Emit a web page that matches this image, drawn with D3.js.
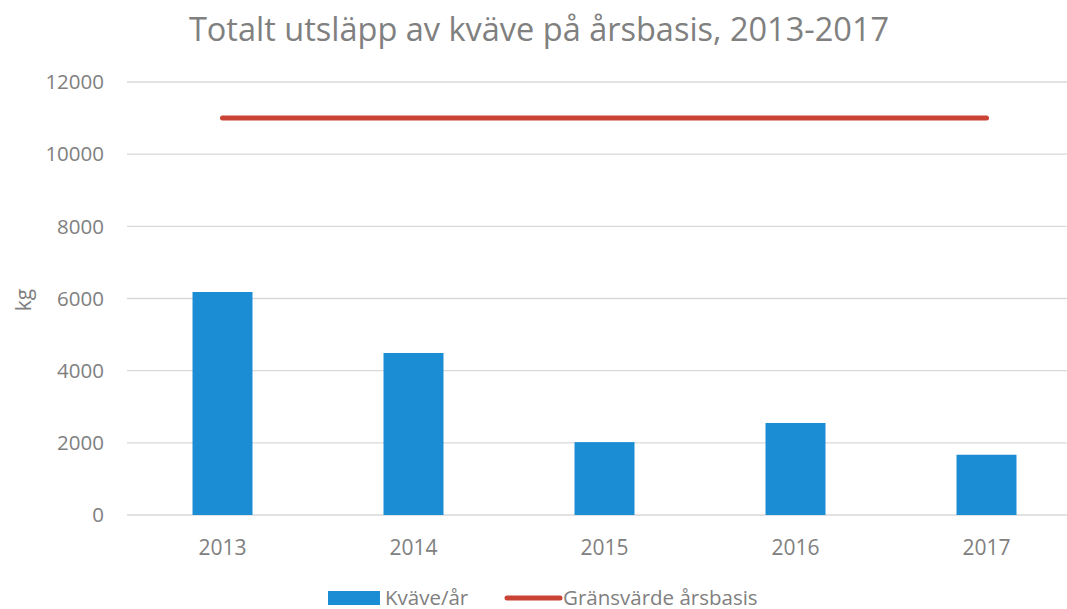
<!DOCTYPE html>
<html>
<head>
<meta charset="utf-8">
<script src="https://cdn.jsdelivr.net/npm/d3@7"></script>
<style>
  body { margin: 0; background: #fff; }
  text { font-family: "Open Sans", "Noto Sans", sans-serif; fill: #808080; }
</style>
</head>
<body>
<div id="chart"></div>
<script>
const years = ["2013", "2014", "2015", "2016", "2017"];
const kvave = [6180, 4490, 2020, 2550, 1670];
const gransvarde = [11000, 11000, 11000, 11000, 11000];
const yTicks = [0, 2000, 4000, 6000, 8000, 10000, 12000];

const width = 1067, height = 609;
const margin = { top: 82, right: -15, bottom: 94, left: 127 };
const innerWidth = width - margin.left - margin.right;
const innerHeight = height - margin.top - margin.bottom;

const svg = d3.select("#chart")
    .append("svg")
    .attr("width", width)
    .attr("height", height)
    .attr("xmlns", "http://www.w3.org/2000/svg");

const g = svg.append("g")
    .attr("transform", `translate(${margin.left}, ${margin.top})`);

const x = d3.scaleBand()
    .domain(years)
    .range([0, innerWidth])
    .padding(0);

const y = d3.scaleLinear()
    .domain([0, 12000])
    .range([innerHeight, 0]);

const barWidth = x.step() * 0.314;

// gridlines
g.selectAll("line.grid")
    .data(yTicks)
    .enter()
    .append("line")
    .attr("class", "grid")
    .attr("x1", 0)
    .attr("x2", innerWidth)
    .attr("y1", d => y(d))
    .attr("y2", d => y(d))
    .attr("stroke", "#d9d9d9")
    .attr("stroke-width", 1.3);

// y tick labels
g.selectAll("text.ytick")
    .data(yTicks)
    .enter()
    .append("text")
    .attr("class", "ytick")
    .attr("x", -23)
    .attr("y", d => y(d))
    .attr("dy", "0.35em")
    .attr("text-anchor", "end")
    .style("font-size", "20.5px")
    .text(d => d);

// bars
g.selectAll("rect.bar")
    .data(kvave)
    .enter()
    .append("rect")
    .attr("class", "bar")
    .attr("x", (d, i) => x(years[i]) + x.bandwidth() / 2 - barWidth / 2)
    .attr("y", d => y(d))
    .attr("width", barWidth)
    .attr("height", d => y(0) - y(d))
    .attr("fill", "#1a8dd5");

// limit line
const line = d3.line()
    .x((d, i) => x(years[i]) + x.bandwidth() / 2)
    .y(d => y(d));

g.append("path")
    .datum(gransvarde)
    .attr("d", line)
    .attr("fill", "none")
    .attr("stroke", "#cb4335")
    .attr("stroke-width", 5)
    .attr("stroke-linecap", "round");

// x tick labels
g.selectAll("text.xtick")
    .data(years)
    .enter()
    .append("text")
    .attr("class", "xtick")
    .attr("x", d => x(d) + x.bandwidth() / 2)
    .attr("y", innerHeight + 40)
    .attr("text-anchor", "middle")
    .style("font-size", "21px")
    .text(d => d);

// y axis title
svg.append("text")
    .attr("transform", `translate(31, 300) rotate(-90)`)
    .attr("text-anchor", "middle")
    .style("font-size", "21px")
    .text("kg");

// title
svg.append("text")
    .attr("x", 539)
    .attr("y", 41)
    .attr("text-anchor", "middle")
    .style("font-size", "32.5px")
    .text("Totalt utsläpp av kväve på årsbasis, 2013-2017");

// legend
const legend = svg.append("g")
    .attr("transform", "translate(328, 598)");

legend.append("rect")
    .attr("x", 0)
    .attr("y", -7)
    .attr("width", 52)
    .attr("height", 14)
    .attr("fill", "#1a8dd5");

legend.append("text")
    .attr("x", 57)
    .attr("y", 0)
    .attr("dy", "0.35em")
    .style("font-size", "20.5px")
    .text("Kväve/år");

legend.append("line")
    .attr("x1", 179)
    .attr("x2", 232)
    .attr("y1", 0)
    .attr("y2", 0)
    .attr("stroke", "#cb4335")
    .attr("stroke-width", 5)
    .attr("stroke-linecap", "round");

legend.append("text")
    .attr("x", 235)
    .attr("y", 0)
    .attr("dy", "0.35em")
    .style("font-size", "20.5px")
    .text("Gränsvärde årsbasis");
</script>
</body>
</html>
